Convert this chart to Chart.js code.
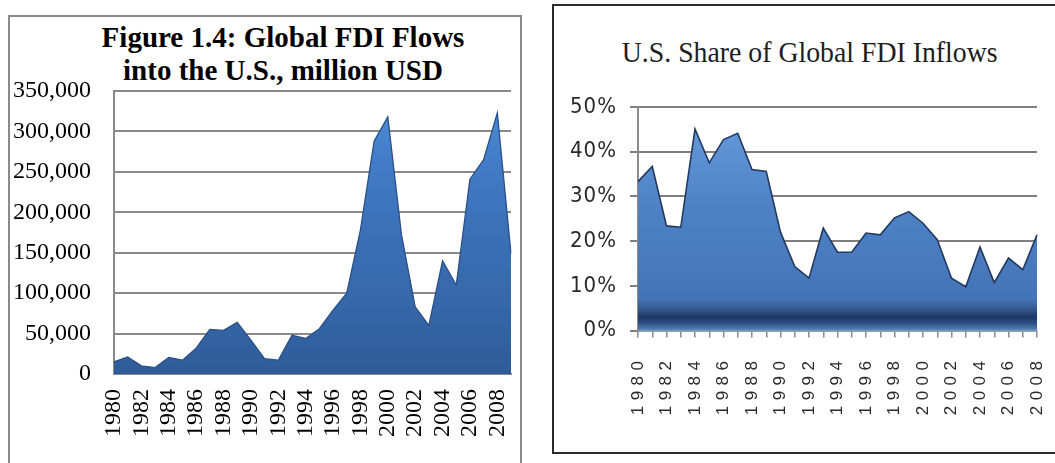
<!DOCTYPE html>
<html>
<head>
<meta charset="utf-8">
<script src="https://cdn.jsdelivr.net/npm/chart.js@4.4.1/dist/chart.umd.min.js"></script>
<style>
  html, body { margin: 0; padding: 0; background: #fff; overflow: hidden; width: 1055px; height: 463px; }
  .frame { position: absolute; box-sizing: border-box; }
  #frameLeft { left: 8px; top: 15px; width: 514px; height: 470px; border: 2px solid #8a8a8a; }
  #frameRight { left: 552px; top: 4px; width: 520px; height: 450px; border: 2px solid #2b2b2b; }
  canvas { position: absolute; }
  #fdiChart { left: 8px; top: 15px; }
  #shareChart { left: 553px; top: 5px; }
  .title { position: absolute; text-align: center; white-space: nowrap; }
  #titleLeft { left: 83px; width: 400px; top: 21px; font: bold 29px/33px "Liberation Serif", "Times New Roman", serif; color: #000; }
  #titleRight { left: 607px; width: 400px; top: 37px; font: 30px/30px "Liberation Serif", "Times New Roman", serif; color: #1e1e1e; transform: scaleX(0.926); }
</style>
</head>
<body>
<div class="frame" id="frameLeft"></div>
<div class="frame" id="frameRight"></div>
<div class="title" id="titleLeft">Figure 1.4: Global FDI Flows<br>into the U.S., million USD</div>
<div class="title" id="titleRight">U.S. Share of Global FDI Inflows</div>
<canvas id="fdiChart" width="513" height="448"></canvas>
<canvas id="shareChart" width="502" height="448"></canvas>
<script>
// FDI inflows into the United States, million USD, 1980-2009
const fdiYears = ['1980','1981','1982','1983','1984','1985','1986','1987','1988','1989',
                  '1990','1991','1992','1993','1994','1995','1996','1997','1998','1999',
                  '2000','2001','2002','2003','2004','2005','2006','2007','2008','2009'];
const fdiFlows = [15000, 21000, 10000, 8000, 20500, 17000, 32000, 55000, 54000, 64000,
                  42000, 19000, 17000, 48000, 44000, 56000, 79000, 100000, 178000, 288000,
                  318000, 172000, 83000, 60000, 140000, 110000, 241000, 265000, 323000, 149000];
const fdiTickMax = 350000;
const fdiTickStep = 50000;

// U.S. share of global FDI inflows, percent, 1980-2008
const shareYears = ['1980','1981','1982','1983','1984','1985','1986','1987','1988','1989',
                    '1990','1991','1992','1993','1994','1995','1996','1997','1998','1999',
                    '2000','2001','2002','2003','2004','2005','2006','2007','2008'];
const sharePct = [33.3, 36.7, 23.4, 23.1, 45.1, 37.5, 42.7, 44.1, 36.0, 35.6,
                  22.0, 14.3, 11.7, 22.9, 17.5, 17.5, 21.8, 21.4, 25.2, 26.6,
                  24.0, 20.3, 11.7, 9.8, 18.7, 10.7, 16.2, 13.6, 21.4];
const shareTickMax = 50;
const shareTickStep = 10;

// every other year is labelled on both axes
const everyOther = (labels) => (value, index) => (index % 2 === 0 ? labels[index] : '');

function verticalGradient(stops, fallback) {
  return (ctx) => {
    const area = ctx.chart.chartArea;
    if (!area) return fallback;
    const g = ctx.chart.ctx.createLinearGradient(0, area.top, 0, area.bottom);
    stops.forEach(([at, color]) => g.addColorStop(at, color));
    return g;
  };
}

// fixed axis box size, no extra room reserved for overhanging labels
function fixedSize(prop, size) {
  return (scale) => {
    scale[prop] = size;
    scale.paddingLeft = 0; scale.paddingRight = 0;
    scale.paddingTop = 0; scale.paddingBottom = 0;
  };
}

// draws a scale's tick labels with extra spacing between characters
const spacedLabels = {
  id: 'spacedLabels',
  beforeDraw(chart, args, opts) {
    Object.entries(opts.spacing || {}).forEach(([id, spacing]) => {
      const scale = chart.scales[id];
      if (!scale || scale.__spaced) return;
      const draw = scale.drawLabels;
      scale.drawLabels = function (area) {
        const c = this.ctx;
        c.save();
        c.letterSpacing = spacing;
        draw.call(this, area);
        c.restore();
      };
      scale.__spaced = true;
    });
  }
};

const serif = '"Liberation Serif", "Times New Roman", serif';

new Chart(document.getElementById('fdiChart'), {
  type: 'line',
  data: {
    labels: fdiYears,
    datasets: [{
      data: fdiFlows,
      fill: 'origin',
      tension: 0,
      pointRadius: 0,
      borderWidth: 1.3,
      borderColor: '#2a5088',
      backgroundColor: verticalGradient([
        [0, '#4d8cd8'], [0.35, '#3f76bf'], [0.75, '#3667a8'], [1, '#2f5c98']
      ], '#3a6db5')
    }]
  },
  options: {
    responsive: false,
    animation: false,
    events: [],
    layout: { padding: { top: 76, right: 10, left: 0, bottom: 0 } },
    plugins: { legend: { display: false }, tooltip: { enabled: false }, title: { display: false } },
    scales: {
      x: {
        grid: { display: false, drawTicks: false },
        border: { display: true, color: '#8a8a8a', width: 2 },
        ticks: {
          autoSkip: false, minRotation: 90, maxRotation: 90, padding: 15,
          color: '#000', font: { family: serif, size: 24 },
          callback: everyOther(fdiYears)
        },
        afterFit: fixedSize('height', 89)
      },
      y: {
        min: 0, max: fdiTickMax,
        grid: { color: '#8a8a8a', lineWidth: 2, drawTicks: false },
        border: { display: true, color: '#8a8a8a', width: 2 },
        ticks: {
          stepSize: fdiTickStep, padding: 23, color: '#000',
          font: { family: serif, size: 24 },
          callback: (v) => v.toLocaleString('en-US')
        },
        afterFit: fixedSize('width', 106)
      }
    }
  }
});

new Chart(document.getElementById('shareChart'), {
  type: 'line',
  data: {
    labels: shareYears,
    datasets: [{
      data: sharePct,
      fill: 'origin',
      tension: 0,
      pointRadius: 0,
      borderWidth: 1.6,
      borderColor: '#223a62',
      backgroundColor: verticalGradient([
        [0, '#6a9ddd'], [0.45, '#4e82c5'], [0.86, '#4474b7'], [0.905, '#33588f'],
        [0.94, '#1d3764'], [0.965, '#2c4c80'], [1, '#5b86bd']
      ], '#4a7fc0')
    }]
  },
  plugins: [spacedLabels],
  options: {
    responsive: false,
    animation: false,
    events: [],
    layout: { padding: { top: 102, right: 18, left: 0, bottom: 0 } },
    plugins: {
      legend: { display: false }, tooltip: { enabled: false }, title: { display: false },
      spacedLabels: { spacing: { x: '5.5px', y: '1px' } }
    },
    scales: {
      x: {
        grid: { display: true, drawOnChartArea: false, drawTicks: true, tickLength: 7, color: '#8c8c8c', lineWidth: 1.5 },
        border: { display: true, color: '#8c9bb0', width: 2 },
        ticks: {
          autoSkip: false, minRotation: 90, maxRotation: 90, padding: 18,
          color: '#2a2a2a', font: { family: '"Liberation Sans", Arial, sans-serif', size: 17 },
          callback: everyOther(shareYears)
        },
        afterFit: fixedSize('height', 122.5)
      },
      y: {
        min: 0, max: shareTickMax,
        grid: { color: '#7f7f7f', lineWidth: 2, drawTicks: true, tickLength: 8 },
        border: { display: true, color: '#8c8c8c', width: 2 },
        ticks: {
          stepSize: shareTickStep, padding: 13, color: '#2a2a2a',
          font: { family: '"Liberation Sans Narrow", "DejaVu Sans Condensed", "Liberation Sans", sans-serif', size: 22 },
          callback: (v) => v + '%'
        },
        afterFit: fixedSize('width', 85)
      }
    }
  }
});
</script>
</body>
</html>
